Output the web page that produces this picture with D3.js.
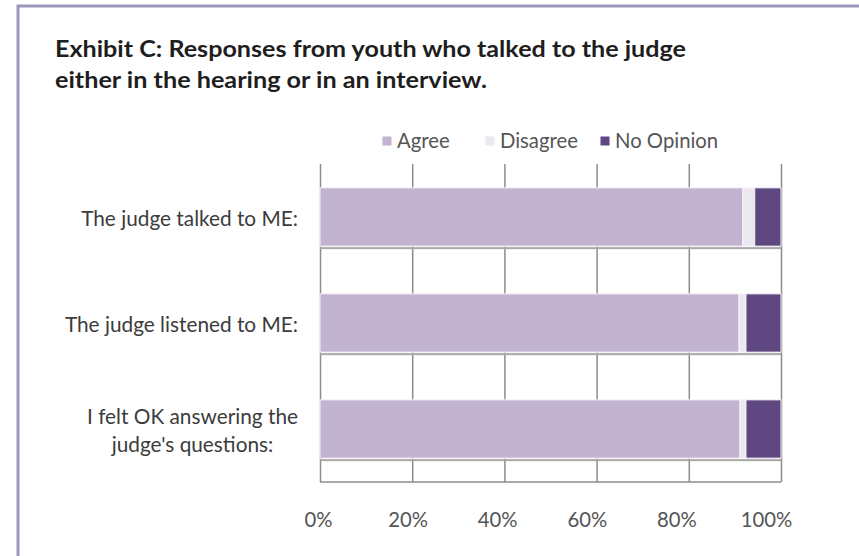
<!DOCTYPE html>
<html>
<head>
<meta charset="utf-8">
<script src="https://cdn.jsdelivr.net/npm/d3@7"></script>
<style>
  body { margin: 0; background: #fff; }
  svg { display: block; }
</style>
</head>
<body>
<script>
// chart data (percent of responses)
const titleLines = [
    "Exhibit C: Responses from youth who talked to the judge",
    "either in the hearing or in an interview."
];
const categories = [
    "The judge talked to ME:",
    "The judge listened to ME:",
    "I felt OK answering the judge's questions:"
];
const seriesNames = ["Agree", "Disagree", "No Opinion"];
const agreeValues = [91.7, 90.9, 91.1];
const disagreeValues = [2.6, 1.5, 1.3];
const noOpinionValues = [5.7, 7.6, 7.6];
const tickValues = [0, 20, 40, 60, 80, 100];

const svgWidth = 859;
const svgHeight = 556;
const plot = {left: 320, right: 781, top: 164, bottom: 482};
const font = "Lato, 'Open Sans', sans-serif";

const colors = d3.scaleOrdinal()
    .domain(seriesNames)
    .range(["#c2b4d0", "#ece8f1", "#5f4782"]);

const rows = categories.map((c, i) => ({
    category: c,
    "Agree": agreeValues[i],
    "Disagree": disagreeValues[i],
    "No Opinion": noOpinionValues[i]
}));

const svg = d3.select("body").append("svg")
    .attr("width", svgWidth)
    .attr("height", svgHeight);

// outer frame (only top + left edges show in the crop)
svg.append("path")
    .attr("d", `M18,${svgHeight + 5} L18,6 L${svgWidth + 5},6`)
    .attr("fill", "none")
    .attr("stroke", "#a096ba")
    .attr("stroke-width", 3);

// title - squeezed to the width of the original (narrow bold face)
const titleWidths = [631, 432];
svg.append("g").selectAll("text")
    .data(titleLines)
    .join("text")
    .attr("x", 55)
    .attr("y", (d, i) => 56.5 + i * 31)
    .attr("font-family", font)
    .attr("font-weight", "bold")
    .attr("font-size", 22.5)
    .attr("fill", "#1e1e1e")
    .attr("textLength", (d, i) => titleWidths[i])
    .attr("lengthAdjust", "spacingAndGlyphs")
    .text(d => d);

const scaleX = d3.scaleLinear().domain([0, 100]).range([plot.left, plot.right]);
// the tick labels in the source sit slightly off the gridlines
const scaleXLabel = d3.scaleLinear().domain([0, 100]).range([318, 766]);
const scaleY = d3.scaleBand()
    .domain(categories)
    .range([plot.top, plot.bottom])
    .paddingInner(0.45)
    .paddingOuter(0.225);

// gridlines
const grid = svg.append("g")
    .attr("transform", `translate(0, ${plot.top})`)
    .call(d3.axisTop(scaleX)
        .tickValues(tickValues)
        .tickSize(-(plot.bottom - plot.top))
        .tickFormat(""));
grid.select(".domain").remove();
grid.selectAll("line").attr("stroke", "#8c8c8c").attr("stroke-width", 1.5);

svg.append("line")
    .attr("x1", scaleX(0)).attr("x2", scaleX(100))
    .attr("y1", plot.bottom).attr("y2", plot.bottom)
    .attr("stroke", "#8c8c8c").attr("stroke-width", 1.5);

// bar shadows
svg.append("g").selectAll("rect")
    .data(categories)
    .join("rect")
    .attr("x", scaleX(0))
    .attr("y", d => scaleY(d) + scaleY.bandwidth() + 1)
    .attr("width", scaleX(100) - scaleX(0))
    .attr("height", 2)
    .attr("fill", "#a8a8a8");

// stacked bars
const stackedData = d3.stack().keys(seriesNames)(rows);
svg.append("g").selectAll("g")
    .data(stackedData)
    .join("g")
    .attr("fill", d => colors(d.key))
    .selectAll("rect")
    .data(d => d)
    .join("rect")
    .attr("x", d => scaleX(d[0]))
    .attr("y", d => scaleY(d.data.category))
    .attr("width", d => scaleX(d[1]) - scaleX(d[0]))
    .attr("height", scaleY.bandwidth())
    .attr("stroke", "#f6f4f8")
    .attr("stroke-width", 1);

// x tick labels
const xAxis = svg.append("g")
    .attr("transform", "translate(0, 520)")
    .call(d3.axisBottom(scaleXLabel)
        .tickValues(tickValues)
        .tickSize(0)
        .tickPadding(0)
        .tickFormat(d => d + "%"));
xAxis.select(".domain").remove();
xAxis.selectAll("text")
    .attr("dy", "0.35em")
    .attr("font-family", font)
    .attr("font-size", 20.3)
    .attr("fill", "#555");

// category labels, wrapped like Excel does (centered lines, right-aligned block)
const labelRight = 298;
const labelG = svg.append("g")
    .attr("font-family", font)
    .attr("font-size", 20.8)
    .attr("fill", "#3c3c3c");

categories.forEach(cat => {
    const words = cat.split(" ");
    const lines = [];
    let line = [];
    const probe = labelG.append("text");
    words.forEach(w => {
        const test = line.concat([w]).join(" ");
        probe.text(test);
        if (probe.node().getComputedTextLength() > 250 && line.length) {
            lines.push(line.join(" "));
            line = [w];
        } else {
            line.push(w);
        }
    });
    lines.push(line.join(" "));
    const widths = lines.map(l => { probe.text(l); return probe.node().getComputedTextLength(); });
    probe.remove();
    const blockW = d3.max(widths);
    const cx = labelRight - blockW / 2;
    const lineH = 28;
    const cy = scaleY(cat) + scaleY.bandwidth() / 2 + 2;
    lines.forEach((l, i) => {
        labelG.append("text")
            .attr("x", cx)
            .attr("y", cy + (i - (lines.length - 1) / 2) * lineH)
            .attr("dy", "0.35em")
            .attr("text-anchor", "middle")
            .text(l);
    });
});

// legend
const legendItems = svg.append("g")
    .selectAll("g")
    .data(seriesNames)
    .join("g")
    .attr("transform", (d, i) => `translate(${[387, 490, 605][i]}, 141)`);
legendItems.append("rect")
    .attr("x", -4.5).attr("y", -4.5)
    .attr("width", 9).attr("height", 9)
    .attr("fill", d => colors(d));
legendItems.append("text")
    .attr("x", 10)
    .attr("dy", "0.35em")
    .attr("font-family", font)
    .attr("font-size", 20.3)
    .attr("fill", "#555")
    .text(d => d);
</script>
</body>
</html>
